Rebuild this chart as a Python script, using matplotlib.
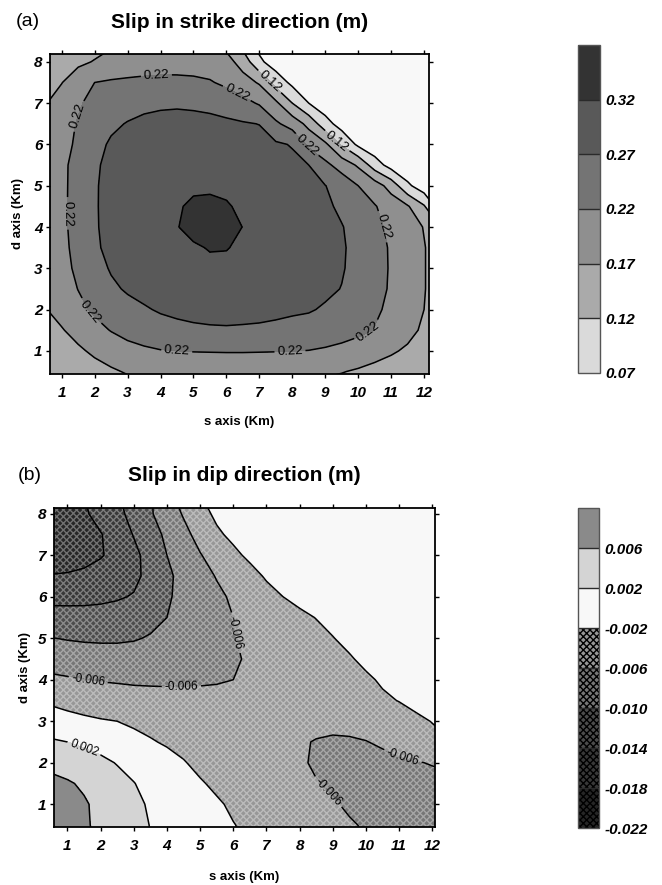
import matplotlib
matplotlib.use("Agg")
import matplotlib.pyplot as plt
from matplotlib.colors import ListedColormap, BoundaryNorm
from matplotlib.cm import ScalarMappable
import numpy as np

plt.rcParams['font.family'] = ['Liberation Sans', 'DejaVu Sans']
plt.rcParams['hatch.color'] = (1.0, 1.0, 1.0, 0.35)
plt.rcParams['hatch.linewidth'] = 1.0
plt.rcParams['contour.negative_linestyle'] = 'solid'

# Fault-plane grid (km along strike, km down dip)
s_km = [0.5, 1.0, 1.5, 2.0, 2.5, 3.0, 3.5, 4.0, 4.5, 5.0, 5.5, 6.0, 6.5,
        7.0, 7.5, 8.0, 8.5, 9.0, 9.5, 10.0, 10.5, 11.0, 11.5, 12.0, 12.5]
d_km = [0.0, 0.5, 1.0, 1.5, 2.0, 2.5, 3.0, 3.5, 4.0, 4.5, 5.0, 5.5, 6.0,
        6.5, 7.0, 7.5, 8.0, 8.5]

# Strike-slip (m), one row per d_km value
strike_slip = [
    [0.120, 0.125, 0.130, 0.135, 0.140, 0.148, 0.155, 0.160, 0.163, 0.165, 0.166, 0.166, 0.166, 0.165, 0.163, 0.160, 0.156, 0.152, 0.148, 0.143, 0.138, 0.133, 0.128, 0.124, 0.120],
    [0.128, 0.136, 0.145, 0.154, 0.164, 0.174, 0.181, 0.186, 0.189, 0.191, 0.192, 0.192, 0.192, 0.191, 0.189, 0.186, 0.182, 0.177, 0.172, 0.165, 0.156, 0.148, 0.140, 0.132, 0.125],
    [0.130, 0.147, 0.163, 0.178, 0.192, 0.204, 0.212, 0.218, 0.220, 0.2215, 0.222, 0.2225, 0.2225, 0.222, 0.2215, 0.221, 0.219, 0.214, 0.207, 0.198, 0.188, 0.176, 0.163, 0.148, 0.130],
    [0.148, 0.167, 0.185, 0.205, 0.222, 0.236, 0.246, 0.254, 0.259, 0.263, 0.265, 0.266, 0.265, 0.264, 0.262, 0.259, 0.255, 0.249, 0.241, 0.231, 0.218, 0.203, 0.184, 0.162, 0.140],
    [0.168, 0.185, 0.208, 0.228, 0.243, 0.256, 0.266, 0.274, 0.279, 0.282, 0.284, 0.284, 0.283, 0.281, 0.278, 0.275, 0.273, 0.266, 0.255, 0.243, 0.228, 0.210, 0.190, 0.170, 0.148],
    [0.178, 0.198, 0.221, 0.242, 0.262, 0.275, 0.282, 0.287, 0.291, 0.294, 0.296, 0.296, 0.294, 0.291, 0.287, 0.283, 0.279, 0.277, 0.269, 0.253, 0.235, 0.215, 0.193, 0.172, 0.150],
    [0.185, 0.207, 0.228, 0.253, 0.274, 0.284, 0.291, 0.297, 0.302, 0.306, 0.309, 0.309, 0.306, 0.302, 0.297, 0.292, 0.286, 0.280, 0.273, 0.258, 0.237, 0.216, 0.194, 0.172, 0.150],
    [0.188, 0.210, 0.232, 0.264, 0.280, 0.290, 0.298, 0.305, 0.311, 0.314, 0.323, 0.322, 0.312, 0.309, 0.302, 0.296, 0.290, 0.283, 0.274, 0.259, 0.238, 0.215, 0.193, 0.172, 0.150],
    [0.190, 0.213, 0.232, 0.266, 0.282, 0.292, 0.301, 0.309, 0.318, 0.335, 0.345, 0.340, 0.319, 0.310, 0.302, 0.295, 0.288, 0.280, 0.272, 0.255, 0.232, 0.210, 0.190, 0.168, 0.120],
    [0.190, 0.212, 0.235, 0.266, 0.284, 0.295, 0.304, 0.311, 0.317, 0.325, 0.327, 0.323, 0.314, 0.307, 0.300, 0.293, 0.286, 0.278, 0.262, 0.243, 0.223, 0.200, 0.175, 0.125, 0.040],
    [0.190, 0.212, 0.234, 0.266, 0.283, 0.293, 0.302, 0.310, 0.313, 0.315, 0.315, 0.313, 0.309, 0.303, 0.296, 0.288, 0.280, 0.271, 0.250, 0.220, 0.195, 0.150, 0.080, 0.040, 0.025],
    [0.188, 0.210, 0.236, 0.264, 0.281, 0.290, 0.298, 0.305, 0.309, 0.311, 0.311, 0.310, 0.305, 0.299, 0.290, 0.281, 0.270, 0.232, 0.200, 0.163, 0.095, 0.050, 0.030, 0.022, 0.020],
    [0.185, 0.205, 0.228, 0.258, 0.275, 0.284, 0.290, 0.296, 0.300, 0.302, 0.302, 0.300, 0.294, 0.286, 0.277, 0.267, 0.210, 0.180, 0.115, 0.060, 0.035, 0.025, 0.020, 0.020, 0.020],
    [0.180, 0.200, 0.224, 0.250, 0.263, 0.272, 0.279, 0.283, 0.285, 0.284, 0.282, 0.278, 0.274, 0.269, 0.228, 0.200, 0.155, 0.090, 0.048, 0.030, 0.022, 0.020, 0.020, 0.020, 0.020],
    [0.168, 0.185, 0.214, 0.236, 0.248, 0.255, 0.260, 0.263, 0.264, 0.262, 0.258, 0.250, 0.235, 0.215, 0.180, 0.120, 0.070, 0.040, 0.028, 0.022, 0.020, 0.020, 0.020, 0.020, 0.020],
    [0.158, 0.169, 0.190, 0.220, 0.226, 0.229, 0.231, 0.232, 0.231, 0.229, 0.224, 0.210, 0.190, 0.165, 0.100, 0.058, 0.035, 0.025, 0.020, 0.020, 0.020, 0.020, 0.020, 0.020, 0.020],
    [0.140, 0.152, 0.163, 0.172, 0.182, 0.190, 0.196, 0.200, 0.201, 0.200, 0.196, 0.188, 0.150, 0.080, 0.045, 0.030, 0.022, 0.020, 0.020, 0.020, 0.020, 0.020, 0.020, 0.020, 0.020],
    [0.120, 0.130, 0.145, 0.155, 0.163, 0.170, 0.176, 0.180, 0.180, 0.179, 0.178, 0.150, 0.095, 0.050, 0.030, 0.020, 0.020, 0.020, 0.020, 0.020, 0.020, 0.020, 0.020, 0.020, 0.020],
]

# Dip-slip (m), one row per d_km value
dip_slip = [
    [0.0086, 0.0078, 0.0066, 0.0056, 0.0045, 0.0034, 0.0021, 0.0012, 0.0005, -0.0002, -0.0009, -0.0016, -0.0023, -0.0030, -0.0036, -0.0042, -0.0047, -0.0051, -0.0055, -0.0059, -0.0062, -0.0065, -0.0066, -0.0067, -0.0067],
    [0.0083, 0.0076, 0.0063, 0.0055, 0.0044, 0.0032, 0.0019, 0.0010, 0.0003, -0.0004, -0.0012, -0.0019, -0.0026, -0.0033, -0.0039, -0.0045, -0.0050, -0.0054, -0.0058, -0.0062, -0.0065, -0.0068, -0.0069, -0.0070, -0.0070],
    [0.0078, 0.0072, 0.0063, 0.0053, 0.0041, 0.0028, 0.0016, 0.0007, 0.0000, -0.0008, -0.0016, -0.0025, -0.0033, -0.0040, -0.0046, -0.0051, -0.0055, -0.0058, -0.0063, -0.0068, -0.0072, -0.0074, -0.0075, -0.0075, -0.0074],
    [0.0068, 0.0063, 0.0056, 0.0046, 0.0033, 0.0021, 0.0010, 0.0000, -0.0009, -0.0017, -0.0026, -0.0035, -0.0043, -0.0049, -0.0053, -0.0056, -0.0059, -0.0064, -0.0069, -0.0073, -0.0075, -0.0075, -0.0073, -0.0071, -0.0069],
    [0.0052, 0.0047, 0.0040, 0.0029, 0.0018, 0.0009, 0.0001, -0.0008, -0.0018, -0.0028, -0.0037, -0.0044, -0.0050, -0.0054, -0.0057, -0.0057, -0.0063, -0.0069, -0.0072, -0.0072, -0.0070, -0.0066, -0.0062, -0.0058, -0.0054],
    [0.0025, 0.0020, 0.0012, 0.0005, -0.0002, -0.0009, -0.0017, -0.0024, -0.0030, -0.0035, -0.0039, -0.0043, -0.0046, -0.0049, -0.0052, -0.0056, -0.0062, -0.0065, -0.0064, -0.0061, -0.0055, -0.0046, -0.0037, -0.0029, -0.0022],
    [-0.0005, -0.0009, -0.0013, -0.0017, -0.0020, -0.0026, -0.0031, -0.0035, -0.0038, -0.0040, -0.0042, -0.0044, -0.0045, -0.0046, -0.0047, -0.0048, -0.0049, -0.0050, -0.0049, -0.0046, -0.0041, -0.0034, -0.0026, -0.0019, -0.0012],
    [-0.0025, -0.0031, -0.0037, -0.0042, -0.0046, -0.0049, -0.0051, -0.0052, -0.0053, -0.0053, -0.0053, -0.0052, -0.0051, -0.0049, -0.0047, -0.0045, -0.0042, -0.0039, -0.0035, -0.0030, -0.0025, -0.0019, -0.0012, -0.0006, -0.0002],
    [-0.0052, -0.0056, -0.0060, -0.0062, -0.0063, -0.0064, -0.0064, -0.0064, -0.0064, -0.0063, -0.0062, -0.0060, -0.0055, -0.0050, -0.0046, -0.0042, -0.0038, -0.0033, -0.0028, -0.0025, -0.0016, -0.0008, -0.0003, 0.0000, 0.0002],
    [-0.0079, -0.0081, -0.0083, -0.0084, -0.0084, -0.0082, -0.0079, -0.0075, -0.0071, -0.0067, -0.0065, -0.0063, -0.0057, -0.0051, -0.0046, -0.0041, -0.0036, -0.0030, -0.0023, -0.0013, -0.0006, -0.0002, 0.0000, 0.0002, 0.0002],
    [-0.0099, -0.0102, -0.0104, -0.0105, -0.0105, -0.0103, -0.0097, -0.0089, -0.0081, -0.0074, -0.0067, -0.0061, -0.0055, -0.0049, -0.0043, -0.0037, -0.0031, -0.0021, -0.0012, -0.0006, -0.0002, 0.0000, 0.0002, 0.0002, 0.0002],
    [-0.0129, -0.0131, -0.0132, -0.0131, -0.0127, -0.0119, -0.0111, -0.0100, -0.0088, -0.0078, -0.0069, -0.0060, -0.0052, -0.0044, -0.0036, -0.0028, -0.0019, -0.0011, -0.0005, -0.0001, 0.0001, 0.0002, 0.0002, 0.0002, 0.0002],
    [-0.0148, -0.0147, -0.0146, -0.0145, -0.0143, -0.0138, -0.0122, -0.0104, -0.0091, -0.0080, -0.0067, -0.0055, -0.0044, -0.0032, -0.0020, -0.0010, -0.0004, 0.0000, 0.0002, 0.0003, 0.0003, 0.0003, 0.0003, 0.0003, 0.0003],
    [-0.0177, -0.0175, -0.0171, -0.0165, -0.0157, -0.0147, -0.0131, -0.0107, -0.0089, -0.0073, -0.0058, -0.0045, -0.0032, -0.0016, -0.0006, -0.0001, 0.0002, 0.0003, 0.0003, 0.0003, 0.0003, 0.0003, 0.0003, 0.0003, 0.0003],
    [-0.0213, -0.0205, -0.0195, -0.0183, -0.0168, -0.0150, -0.0125, -0.0100, -0.0081, -0.0062, -0.0045, -0.0028, -0.0013, -0.0005, 0.0000, 0.0002, 0.0003, 0.0003, 0.0003, 0.0003, 0.0003, 0.0003, 0.0003, 0.0003, 0.0003],
    [-0.0212, -0.0205, -0.0195, -0.0182, -0.0163, -0.0138, -0.0115, -0.0093, -0.0070, -0.0048, -0.0026, -0.0012, -0.0004, 0.0000, 0.0002, 0.0003, 0.0003, 0.0003, 0.0003, 0.0003, 0.0003, 0.0003, 0.0003, 0.0003, 0.0003],
    [-0.0208, -0.0198, -0.0185, -0.0168, -0.0150, -0.0128, -0.0104, -0.0080, -0.0057, -0.0033, -0.0013, -0.0005, 0.0000, 0.0002, 0.0003, 0.0003, 0.0003, 0.0003, 0.0003, 0.0003, 0.0003, 0.0003, 0.0003, 0.0003, 0.0003],
    [-0.0215, -0.0202, -0.0180, -0.0162, -0.0143, -0.0125, -0.0104, -0.0070, -0.0045, -0.0020, -0.0008, -0.0002, 0.0000, 0.0003, 0.0003, 0.0003, 0.0003, 0.0003, 0.0003, 0.0003, 0.0003, 0.0003, 0.0003, 0.0003, 0.0003],
]

strike_levels = [0.07, 0.12, 0.17, 0.22, 0.27, 0.32, 0.37]
strike_labelled = [0.12, 0.22]
strike_plain = [0.07, 0.17, 0.27, 0.32]
dip_levels = [-0.022, -0.018, -0.014, -0.010, -0.006, -0.002, 0.002, 0.006, 0.010]
dip_labelled = [-0.006, 0.002]
dip_plain = [-0.018, -0.014, -0.010, -0.002, 0.006]

x_ticks = [1, 2, 3, 4, 5, 6, 7, 8, 9, 10, 11, 12]
y_ticks = [1, 2, 3, 4, 5, 6, 7, 8]

strike_colors = ['#dadada', '#aaaaaa', '#8f8f8f', '#747474', '#595959', '#333333']
below_color = '#f8f8f8'
dip_colors = ['#262626', '#383838', '#4c4c4c', '#767676', '#979797',
              '#f8f8f8', '#d4d4d4', '#8a8a8a']
dip_hatches = ['xxxxx', 'xxxxx', 'xxxxx', 'xxxxx', 'xxxxx', None, None, None]

S, D = np.meshgrid(s_km, d_km)
Za = np.array(strike_slip)
Zb = np.array(dip_slip)

W, H = 662.0, 885.0
fig = plt.figure(figsize=(W / 100, H / 100), dpi=100)
ax_a = fig.add_axes([50 / W, 1 - 374 / H, 379 / W, 320 / H])
cax_a = fig.add_axes([578 / W, 1 - 373 / H, 22 / W, 328 / H])
ax_b = fig.add_axes([54 / W, 1 - 827 / H, 381 / W, 319 / H])
cax_b = fig.add_axes([578 / W, 1 - 828 / H, 21 / W, 320 / H])

tick_font = dict(fontsize=11, fontweight='bold', fontstyle='italic')


def style_axes(ax, xlim, ylim, xlab_y, ylab_x):
    ax.set_xlim(*xlim)
    ax.set_ylim(*ylim)
    ax.set_xticks(x_ticks)
    ax.set_yticks(y_ticks)
    ax.set_xticklabels([str(t) for t in x_ticks], **tick_font)
    ax.set_yticklabels([str(t) for t in y_ticks], **tick_font)
    ax.tick_params(direction='out', length=3, width=1.0, top=True, right=True,
                   labeltop=False, labelright=False)
    ax.tick_params(axis='x', pad=6)
    ax.tick_params(axis='y', pad=2.5)
    for sp in ax.spines.values():
        sp.set_linewidth(1.3)
    ax.set_xlabel('s axis (Km)', fontsize=9.5, fontweight='bold')
    ax.set_ylabel('d axis (Km)', fontsize=9.5, fontweight='bold')
    ax.xaxis.set_label_coords(0.5, xlab_y)
    ax.xaxis.label.set_va('center')
    ax.yaxis.set_label_coords(ylab_x, 0.5)
    ax.yaxis.label.set_va('center')


# ---- (a) strike slip ----
fill_a = ax_a.contourf(S, D, Za, levels=[-1.0] + strike_levels,
                       colors=[below_color] + strike_colors)
ax_a.contour(S, D, Za, levels=strike_plain, colors='black', linewidths=1.1)
lines_a = ax_a.contour(S, D, Za, levels=strike_labelled, colors='black',
                       linewidths=1.1)
ax_a.clabel(lines_a, fmt='%.2f', fontsize=9.5, inline=True, inline_spacing=2,
            manual=[(3.88, 7.62), (6.31, 7.23), (8.54, 6.06), (1.56, 6.67),
                    (1.15, 4.33), (1.76, 1.86), (4.49, 0.97), (7.93, 0.98),
                    (10.31, 1.46), (10.72, 4.0), (7.3, 7.51), (9.4, 6.12)])
style_axes(ax_a, (0.645, 12.15), (0.44, 8.19), -0.15, -0.084)

sm_a = ScalarMappable(norm=BoundaryNorm(strike_levels, len(strike_colors)),
                      cmap=ListedColormap(strike_colors))
cb_a = fig.colorbar(sm_a, cax=cax_a, drawedges=True, ticks=strike_levels[:-1])
cb_a.ax.set_yticklabels(['%.2f' % v for v in strike_levels[:-1]], **tick_font)

# ---- (b) dip slip ----
fill_b = ax_b.contourf(S, D, Zb, levels=dip_levels, colors=dip_colors,
                       hatches=dip_hatches)
ax_b.contour(S, D, Zb, levels=dip_plain, colors='black', linewidths=1.1,
             linestyles='solid')
lines_b = ax_b.contour(S, D, Zb, levels=dip_labelled, colors='black',
                       linewidths=1.1, linestyles='solid')
ax_b.clabel(lines_b, fmt='%.3f', fontsize=8.5, inline=True, inline_spacing=2,
            manual=[(6.05, 5.13), (1.62, 3.96), (4.44, 3.88),
                    (11.13, 2.22), (8.91, 1.34), (1.52, 2.39)])
style_axes(ax_b, (0.595, 12.08), (0.45, 8.14), -0.157, -0.076)

cb_b = fig.colorbar(fill_b, cax=cax_b, drawedges=True, ticks=dip_levels[:-1])
cb_b.ax.set_yticklabels(['%.3f' % v for v in dip_levels[:-1]], **tick_font)

for cb in (cb_a, cb_b):
    cb.ax.minorticks_off()
    cb.ax.tick_params(length=0, pad=4)
    cb.outline.set_edgecolor('#555555')
    cb.outline.set_linewidth(1.0)
    cb.dividers.set_color('#2a2a2a')
    cb.dividers.set_linewidth(1.0)

# ---- titles ----
fig.text(239.5 / W, 1 - 22 / H, 'Slip in strike direction (m)', fontsize=15,
         fontweight='bold', ha='center', va='center')
fig.text(28 / W, 1 - 22 / H, '(a)', fontsize=14, ha='center', va='center')
fig.text(244.5 / W, 1 - 475 / H, 'Slip in dip direction (m)', fontsize=15,
         fontweight='bold', ha='center', va='center')
fig.text(30 / W, 1 - 475 / H, '(b)', fontsize=14, ha='center', va='center')

fig.savefig('out.png', dpi=100)
